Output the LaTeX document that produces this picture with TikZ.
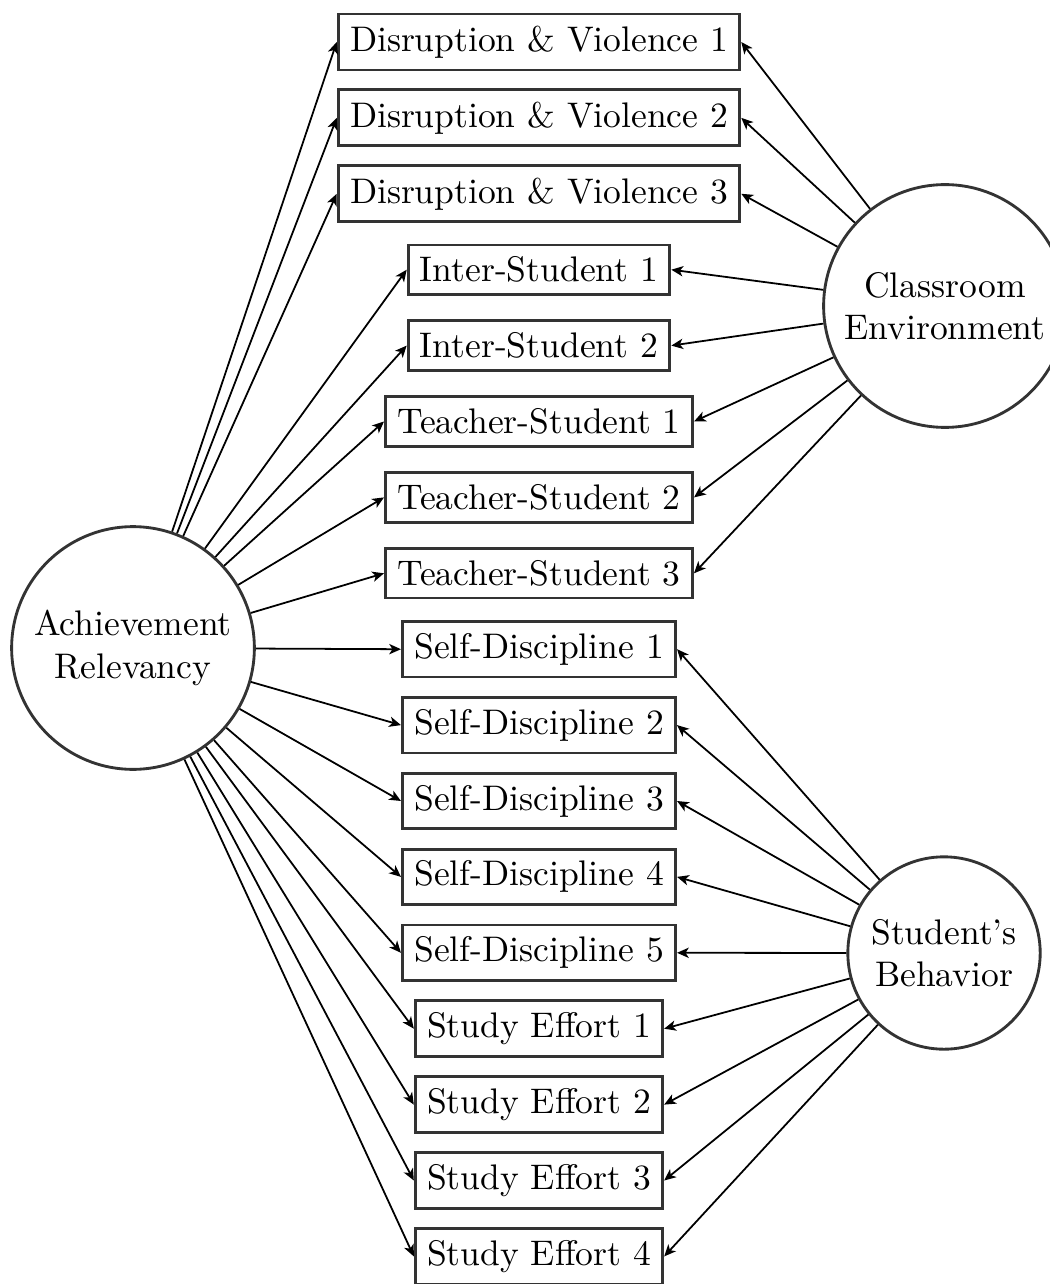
\documentclass[tikz,border=0pt]{standalone}
\usetikzlibrary{
  arrows.meta,
  positioning,
}
\tikzstyle{indicator} = [
  rectangle,
  draw=black!80,
  thick,
  fill=white,
]
\tikzstyle{factor} = [
  circle,
  draw=black!80,
  thick,
  align=center,
]
\tikzstyle{loading} = [
  -{Stealth[length=3.3pt,width=2.9pt,inset=0.9pt]},
  line width=0.5pt,
  black,
]

\begin{document}
\begin{tikzpicture}[x=0.009881cm, y=-0.009881cm]

        \useasboundingbox (0,0) rectangle (1049,1284);

        \foreach \name/\txt [count=\i from 0] in {
            dv1/Disruption \& Violence 1,
            dv2/Disruption \& Violence 2,
            dv3/Disruption \& Violence 3,
            is1/Inter-Student 1,
            is2/Inter-Student 2,
            ts1/Teacher-Student 1,
            ts2/Teacher-Student 2,
            ts3/Teacher-Student 3,
            sd1/Self-Discipline 1,
            sd2/Self-Discipline 2,
            sd3/Self-Discipline 3,
            sd4/Self-Discipline 4,
            sd5/Self-Discipline 5,
            se1/Study Effort 1,
            se2/Study Effort 2,
            se3/Study Effort 3,
            se4/Study Effort 4} {
          \node [indicator] (\name) at (539, 42 + \i * 75.9) {\txt};
        }

        \node [factor, minimum size=2.4cm] (ach) at (133, 648) {Achievement\\Relevancy};

        \node [factor, minimum size=2.3cm] (cls) at (945, 306) {Classroom\\Environment};

        \node [factor, minimum size=1.8cm] (stu) at (944, 953) {Student's\\Behavior};

        \foreach \name in {dv1,dv2,dv3,is1,is2,ts1,ts2,ts3,sd1,sd2,sd3,sd4,sd5,se1,se2,se3,se4} {
          \draw [loading] (ach) -- (\name.west);
        }

        \foreach \name in {dv1,dv2,dv3,is1,is2,ts1,ts2,ts3} {
          \draw [loading] (cls) -- (\name.east);
        }

        \foreach \name in {sd1,sd2,sd3,sd4,sd5,se1,se2,se3,se4} {
          \draw [loading] (stu) -- (\name.east);
        }
      \end{tikzpicture}
\end{document}
